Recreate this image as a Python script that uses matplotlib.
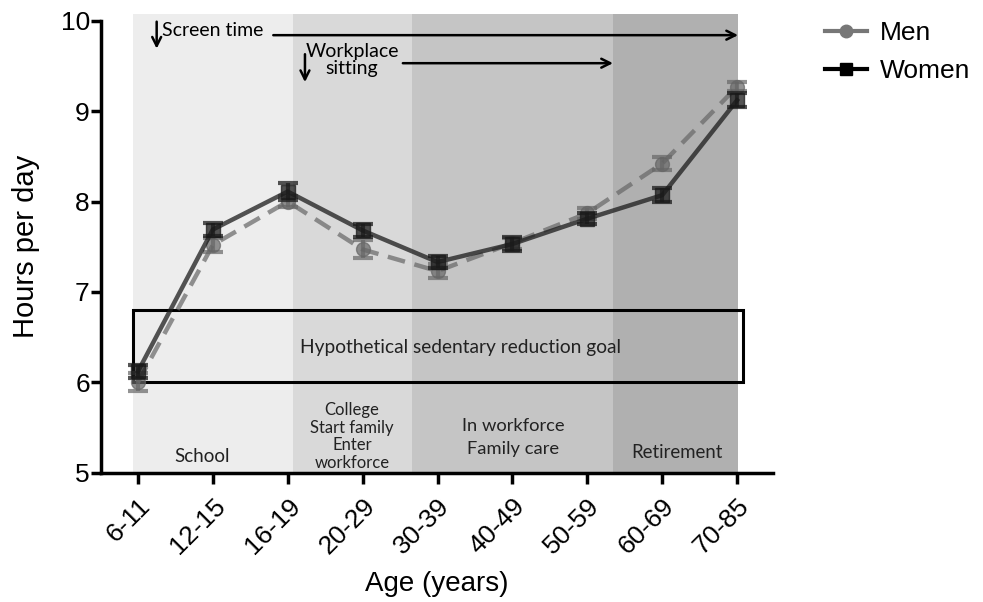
import numpy as np
import matplotlib
matplotlib.use("Agg")
import matplotlib.pyplot as plt
from matplotlib.patches import Rectangle
from matplotlib.lines import Line2D

# age groups and mean hours per day
ages = ["6-11", "12-15", "16-19", "20-29", "30-39", "40-49", "50-59", "60-69", "70-85"]
men = [6.00, 7.52, 8.00, 7.47, 7.23, 7.54, 7.87, 8.42, 9.27]
men_err = [0.10, 0.08, 0.06, 0.10, 0.08, 0.06, 0.06, 0.07, 0.05]
women = [6.12, 7.69, 8.11, 7.68, 7.33, 7.53, 7.81, 8.07, 9.12]
women_err = [0.07, 0.07, 0.09, 0.07, 0.07, 0.08, 0.06, 0.08, 0.08]

# life stage bands (start, end in category units) and labels
stage_edges = [-0.07, 2.07, 3.66, 6.34, 8.01]
stage_colors = ["#ededed", "#d9d9d9", "#c5c5c5", "#b0b0b0"]
stage_labels = ["School", "College\nStart family\nEnter\nworkforce",
                "In workforce\nFamily care", "Retirement"]

goal_low, goal_high = 6.0, 6.8

ann_font = ["Lato", "DejaVu Sans"]
plt.rcParams["font.family"] = ["Liberation Sans", "DejaVu Sans"]

fig = plt.figure(figsize=(9.83, 6.02), dpi=100)
ax = fig.add_axes([0.1027, 0.2148, 0.6837, 0.7508])

x = np.arange(len(ages))

# shaded bands
for i in range(len(stage_colors)):
    ax.add_patch(Rectangle((stage_edges[i], 5), stage_edges[i + 1] - stage_edges[i], 5.07,
                           facecolor=stage_colors[i], edgecolor="none", zorder=0, clip_on=False))

# goal box
ax.add_patch(Rectangle((-0.07, goal_low), 8.15, goal_high - goal_low, facecolor="none",
                       edgecolor="black", linewidth=2.2, zorder=3, clip_on=False))
ax.text(4.31, 6.39, "Hypothetical sedentary reduction goal", ha="center", va="center",
        fontsize=13.8, family=ann_font, color="#222222", zorder=4)

# stage labels
ax.text(0.855, 5.18, stage_labels[0], ha="center", va="center", fontsize=13.5, family=ann_font, color="#222222")
ax.text(2.86, 5.40, stage_labels[1], ha="center", va="center", fontsize=12, family=ann_font,
        color="#222222", linespacing=1.12)
ax.text(5.01, 5.39, stage_labels[2], ha="center", va="center", fontsize=13.2, family=ann_font,
        color="#222222", linespacing=1.5)
ax.text(7.2, 5.22, stage_labels[3], ha="center", va="center", fontsize=13.4, family=ann_font, color="#222222")

# series
ax.errorbar(x, men, yerr=men_err, color="#666666", alpha=0.7, linewidth=3.2, dashes=(4, 2.2),
            marker="o", markersize=10, capsize=7, capthick=3, elinewidth=3, zorder=5)
ax.errorbar(x, women, yerr=women_err, color="#1a1a1a", alpha=0.74, linewidth=3.2,
            marker="s", markersize=10, capsize=7, capthick=3, elinewidth=3, zorder=6)

# arrows
arrow = dict(arrowstyle="->", lw=1.8, color="black", mutation_scale=16)
ax.annotate("", xy=(0.25, 9.66), xytext=(0.25, 10.02), arrowprops=arrow, annotation_clip=False)
ax.text(0.32, 9.89, "Screen time", ha="left", va="center", fontsize=14, family=ann_font)
ax.annotate("", xy=(8.05, 9.84), xytext=(1.77, 9.84), arrowprops=arrow, annotation_clip=False)
ax.annotate("", xy=(2.23, 9.29), xytext=(2.23, 9.66), arrowprops=arrow, annotation_clip=False)
ax.text(2.86, 9.56, "Workplace\nsitting", ha="center", va="center", fontsize=14, family=ann_font,
        linespacing=1.0)
ax.annotate("", xy=(6.38, 9.53), xytext=(3.5, 9.53), arrowprops=arrow, annotation_clip=False)

# axes styling
ax.set_xlim(-0.494, 8.48)
ax.set_ylim(5, 10)
ax.set_xticks(x)
ax.set_xticklabels(ages, rotation=45, ha="right", rotation_mode="anchor", fontsize=19)
ax.set_yticks([5, 6, 7, 8, 9, 10])
ax.tick_params(axis="y", labelsize=19, width=2.5, length=7, pad=1)
ax.tick_params(axis="x", width=2.5, length=8, pad=7)
for s in ["top", "right"]:
    ax.spines[s].set_visible(False)
for s in ["left", "bottom"]:
    ax.spines[s].set_linewidth(2.5)
ax.set_ylabel("Hours per day", fontsize=21, labelpad=15)
ax.set_xlabel("Age (years)", fontsize=20, labelpad=9)

# legend
handles = [Line2D([], [], color="#777777", linewidth=3, marker="o", markersize=9),
           Line2D([], [], color="black", linewidth=3, marker="s", markersize=9)]
fig.legend(handles, ["Men", "Women"], loc="upper left", bbox_to_anchor=(0.815, 1.005),
           frameon=False, fontsize=19, handlelength=1.6, handletextpad=0.5, labelspacing=0.55)

fig.savefig("out.png", dpi=100)
